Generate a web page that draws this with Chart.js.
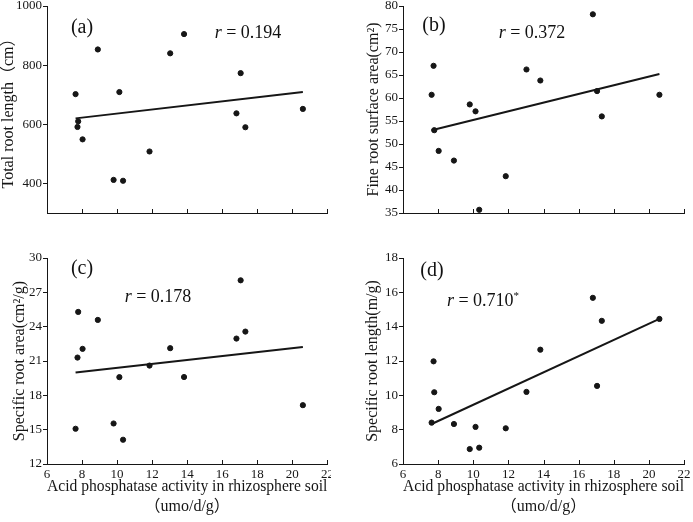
<!DOCTYPE html>
<html>
<head>
<meta charset="utf-8">
<script src="https://cdn.jsdelivr.net/npm/chart.js@4.4.1/dist/chart.umd.min.js"></script>
<style>
  body { margin: 0; background: #fff; width: 693px; height: 522px; position: relative; overflow: hidden; }
  canvas { position: absolute; }
  .lbl { position: absolute; transform: translate(-50%, -50%); white-space: nowrap; line-height: 1; color: #111;
         font-family: "Liberation Serif", "Times New Roman", serif; }
  .tag { font-size: 20px; }
  .rval { font-size: 18px; }
  .rval sup { font-size: 11px; vertical-align: 7px; }
</style>
</head>
<body>
<canvas id="chart-a" width="331" height="240" style="left:0;top:0"></canvas>
<canvas id="chart-b" width="343" height="240" style="left:350px;top:0"></canvas>
<canvas id="chart-c" width="331" height="272" style="left:0;top:250px"></canvas>
<canvas id="chart-d" width="343" height="272" style="left:350px;top:250px"></canvas>

<div class="lbl tag" style="left:82px;top:26px">(a)</div>
<div class="lbl rval" style="left:248px;top:32px"><i>r</i> = 0.194</div>
<div class="lbl tag" style="left:434px;top:24px">(b)</div>
<div class="lbl rval" style="left:532px;top:32px"><i>r</i> = 0.372</div>
<div class="lbl tag" style="left:82px;top:267px">(c)</div>
<div class="lbl rval" style="left:158px;top:296px"><i>r</i> = 0.178</div>
<div class="lbl tag" style="left:432px;top:269px">(d)</div>
<div class="lbl rval" style="left:483px;top:299px"><i>r</i> = 0.710<sup>*</sup></div>

<script>
// acid phosphatase activity in rhizosphere soil (x, shared by all panels)
const acidP = [7.63, 7.74, 7.78, 8.03, 8.9, 9.8, 10.13, 10.34, 11.85, 13.03, 13.82, 16.81, 17.05, 17.32, 20.6]

const totalRootLength = [702, 591, 610, 549, 853, 412, 709, 409, 508, 840, 905, 637, 773, 590, 652]
const fineRootArea = [60.7, 67.0, 53.0, 48.5, 46.4, 58.6, 57.1, 35.7, 43.0, 66.2, 63.8, 78.2, 61.5, 56.0, 60.7]
const specificRootArea = [15.08, 21.3, 25.29, 22.06, 24.59, 15.54, 19.59, 14.12, 20.6, 22.12, 19.6, 22.96, 28.05, 23.57, 17.14]
const specificRootLength = [8.41, 11.98, 10.18, 9.21, 8.33, 6.87, 8.16, 6.95, 8.08, 10.2, 12.66, 15.68, 10.55, 14.34, 14.45]

// fitted lines, read at both ends
const fitX = [7.63, 20.6]
const fitA = [620, 709]
const fitB = [53.0, 65.2]
const fitC = [20.0, 22.23]
const fitD = [8.33, 14.45]

// tick labels
const xTicks = [6, 8, 10, 12, 14, 16, 18, 20, 22]
const yTicksA = [400, 600, 800, 1000]
const yTicksB = [35, 40, 45, 50, 55, 60, 65, 70, 75, 80]
const yTicksC = [12, 15, 18, 21, 24, 27, 30]
const yTicksD = [6, 8, 10, 12, 14, 16, 18]

const xTitle = ['Acid phosphatase activity in rhizosphere soil', '\uFF08umo/d/g\uFF09']

const serif = '"Liberation Serif", "Times New Roman", "Noto Sans CJK SC", serif'
const ink = '#161616'

// x ticks point inward (up from the axis)
const innerTicks = {
  id: 'innerTicks',
  afterDraw(chart) {
    const sx = chart.scales.x
    const ctx = chart.ctx
    ctx.save()
    ctx.strokeStyle = ink
    ctx.lineWidth = 1
    ctx.beginPath()
    sx.ticks.forEach(t => {
      const px = Math.round(sx.getPixelForValue(t.value)) + 0.5
      ctx.moveTo(px, sx.top)
      ctx.lineTo(px, sx.top - 4)
    })
    ctx.stroke()
    ctx.restore()
  }
}

function makePanel(id, yValues, fitY, yTicks, yMin, yMax, yTitle, o) {
  const canvas = document.getElementById(id)
  return new Chart(canvas, {
    type: 'scatter',
    data: {
      datasets: [{
        data: acidP.map((x, i) => ({ x: x, y: yValues[i] })),
        backgroundColor: ink,
        borderColor: ink,
        pointRadius: 2.6,
        pointHoverRadius: 2.6
      }, {
        data: fitX.map((x, i) => ({ x: x, y: fitY[i] })),
        showLine: true,
        borderColor: ink,
        borderWidth: 2,
        pointRadius: 0
      }]
    },
    plugins: [innerTicks],
    options: {
      responsive: false,
      animation: false,
      layout: { padding: { top: o.padTop, right: o.padRight, left: 0, bottom: 0 } },
      plugins: {
        legend: { display: false },
        tooltip: { enabled: false }
      },
      scales: {
        x: {
          type: 'linear',
          min: 6,
          max: 22,
          afterBuildTicks: s => { s.ticks = xTicks.map(v => ({ value: v })) },
          afterFit: s => { s.height = o.xHeight; s.paddingLeft = 0; s.paddingRight = 0 },
          ticks: {
            color: ink,
            font: { family: serif, size: 13 },
            padding: 3,
            maxRotation: 0,
            autoSkip: false,
            callback: v => o.showX ? String(v) : ''
          },
          grid: { drawOnChartArea: false, drawTicks: false, color: ink },
          border: { color: ink, width: 1 },
          title: {
            display: o.showX,
            text: xTitle,
            color: ink,
            font: { family: serif, size: 16, lineHeight: 1.25 },
            padding: { top: 0, bottom: 5.3 }
          }
        },
        y: {
          type: 'linear',
          min: yMin,
          max: yMax,
          afterBuildTicks: s => { s.ticks = yTicks.map(v => ({ value: v })) },
          afterFit: s => { s.width = o.yWidth; s.paddingTop = 0; s.paddingBottom = 0 },
          ticks: {
            color: ink,
            font: { family: serif, size: 13 },
            padding: 1,
            callback: v => String(v)
          },
          grid: { drawOnChartArea: false, tickLength: 4, color: ink },
          border: { color: ink, width: 1 },
          title: {
            display: true,
            text: yTitle,
            color: ink,
            font: { family: serif, size: 16, lineHeight: 1 },
            padding: { top: o.titlePad, bottom: 0 }
          }
        }
      }
    }
  })
}

const topLeft = { padTop: 6, padRight: 3, xHeight: 27, yWidth: 47, showX: false }
const topRight = { padTop: 6, padRight: 9, xHeight: 27, yWidth: 53, showX: false }
const bottomLeft = { padTop: 8, padRight: 3, xHeight: 58, yWidth: 47, showX: true }
const bottomRight = { padTop: 8, padRight: 9, xHeight: 58, yWidth: 53, showX: true }

let chartA = makePanel('chart-a', totalRootLength, fitA, yTicksA, 300, 1000,
  'Total root length\uFF08cm\uFF09', Object.assign({ titlePad: 0.5 }, topLeft))
let chartB = makePanel('chart-b', fineRootArea, fitB, yTicksB, 35, 80,
  'Fine root surface area(cm\u00B2)', Object.assign({ titlePad: 16 }, topRight))
let chartC = makePanel('chart-c', specificRootArea, fitC, yTicksC, 12, 30,
  'Specific root area(cm\u00B2/g)', Object.assign({ titlePad: 11.7 }, bottomLeft))
let chartD = makePanel('chart-d', specificRootLength, fitD, yTicksD, 6, 18,
  'Specific root length(m/g)', Object.assign({ titlePad: 14.5 }, bottomRight))
</script>
</body>
</html>
